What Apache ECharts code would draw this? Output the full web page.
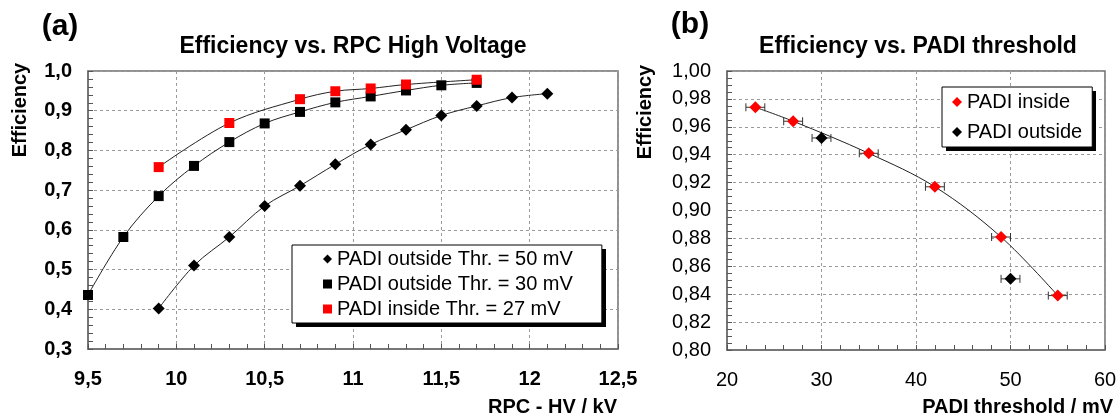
<!DOCTYPE html>
<html>
<head>
<meta charset="utf-8">
<script src="https://cdn.jsdelivr.net/npm/echarts@6/dist/echarts.min.js"></script>
<style>
html,body{margin:0;padding:0;background:#fff;}
#chart{width:1120px;height:419px;}
</style>
</head>
<body>
<div id="chart"></div>
<script>
// ---- Data ----
// (a) Efficiency vs. RPC High Voltage
const hv50 = [9.9, 10.1, 10.3, 10.5, 10.7, 10.9, 11.1, 11.3, 11.5, 11.7, 11.9, 12.1];
const eff50 = [0.402, 0.510, 0.582, 0.660, 0.711, 0.765, 0.815, 0.852, 0.888, 0.912, 0.933, 0.943];
const hv30 = [9.5, 9.7, 9.9, 10.1, 10.3, 10.5, 10.7, 10.9, 11.1, 11.3, 11.5, 11.7];
const eff30 = [0.436, 0.582, 0.685, 0.761, 0.821, 0.868, 0.897, 0.921, 0.936, 0.951, 0.964, 0.970];
const hv27 = [9.9, 10.3, 10.7, 10.9, 11.1, 11.3, 11.7];
const eff27 = [0.758, 0.869, 0.929, 0.949, 0.956, 0.966, 0.978];
const namesA = ['PADI outside Thr. = 50 mV', 'PADI outside Thr. = 30 mV', 'PADI inside Thr. = 27 mV'];

// (b) Efficiency vs. PADI threshold
const thrInside = [23, 27, 35, 42, 49, 55];
const effInside = [0.974, 0.964, 0.941, 0.917, 0.881, 0.839];
const thrOutside = [30, 50];
const effOutside = [0.952, 0.851];
const thrErr = 1.0; // horizontal error (mV)
const namesB = ['PADI inside', 'PADI outside'];

const FONT = "'Liberation Sans', Arial, sans-serif";
const pairs = (xs, ys) => xs.map((x, i) => [x, ys[i]]);
const comma = (s) => String(s).replace('.', ',');

const chart = echarts.init(document.getElementById('chart'), null, {renderer: 'canvas'});

const gridLine = {show: true, lineStyle: {color: '#9a9a9a', type: [3, 3], width: 1}};
const axLine = {show: true, lineStyle: {color: '#6e6e6e', width: 1.5}};
const tick = {show: true, inside: true, length: 5, lineStyle: {color: '#555', width: 1}};
const mtick = (n) => ({show: true, splitNumber: n, length: 5, lineStyle: {color: '#555', width: 1}});

function errRender(params, api) {
  const x = api.value(0), y = api.value(1), e = api.value(2);
  const p1 = api.coord([x - e, y]);
  const p2 = api.coord([x + e, y]);
  const st = {stroke: '#333', lineWidth: 1};
  return {
    type: 'group',
    children: [
      {type: 'line', shape: {x1: p1[0], y1: p1[1], x2: p2[0], y2: p2[1]}, style: st},
      {type: 'line', shape: {x1: p1[0], y1: p1[1] - 4, x2: p1[0], y2: p1[1] + 4}, style: st},
      {type: 'line', shape: {x1: p2[0], y1: p2[1] - 4, x2: p2[0], y2: p2[1] + 4}, style: st}
    ]
  };
}

const curve = (xs, ys, xi) => ({type: 'line', xAxisIndex: xi, yAxisIndex: xi, data: pairs(xs, ys), smooth: 0.35,
  showSymbol: false, silent: true, lineStyle: {color: '#222', width: 1}, z: 2});

const option = {
  backgroundColor: '#fff',
  animation: false,
  textStyle: {fontFamily: FONT},
  grid: [
    {left: 88, top: 71, width: 530, height: 278, show: true, borderColor: '#6e6e6e', borderWidth: 1.5, containLabel: false},
    {left: 727, top: 71, width: 378, height: 279, show: true, borderColor: '#6e6e6e', borderWidth: 1.5, containLabel: false}
  ],
  xAxis: [
    {type: 'value', gridIndex: 0, min: 9.5, max: 12.5, interval: 0.5,
     axisLine: axLine, axisTick: tick, minorTick: mtick(5), splitLine: gridLine,
     axisLabel: {fontSize: 20, fontWeight: 'bold', color: '#000', fontFamily: FONT, margin: 20,
       showMinLabel: true, showMaxLabel: true,
       formatter: v => Number.isInteger(v) ? String(v) : comma(v.toFixed(1))}},
    {type: 'value', gridIndex: 1, min: 20, max: 60, interval: 10,
     axisLine: axLine, axisTick: tick, minorTick: mtick(5), splitLine: gridLine,
     axisLabel: {fontSize: 20, color: '#000', fontFamily: FONT, margin: 20,
       showMinLabel: true, showMaxLabel: true, formatter: v => String(v)}}
  ],
  yAxis: [
    {type: 'value', gridIndex: 0, min: 0.3, max: 1.0, interval: 0.1,
     axisLine: axLine, axisTick: tick, minorTick: mtick(5), splitLine: gridLine,
     axisLabel: {fontSize: 20, fontWeight: 'bold', color: '#000', fontFamily: FONT, margin: 16,
       showMinLabel: true, showMaxLabel: true, formatter: v => comma(v.toFixed(1))}},
    {type: 'value', gridIndex: 1, min: 0.8, max: 1.0, interval: 0.02,
     axisLine: axLine, axisTick: tick, minorTick: mtick(4), splitLine: gridLine,
     axisLabel: {fontSize: 20, color: '#000', fontFamily: FONT, margin: 16,
       showMinLabel: true, showMaxLabel: true, formatter: v => comma(v.toFixed(2))}}
  ],
  legend: [
    {orient: 'vertical', left: 292, top: 245, z: 10, data: namesA.map((n, i) => ({name: n, icon: i === 0 ? 'diamond' : 'rect'})),
     itemWidth: 9, itemHeight: 9, itemGap: 5,
     textStyle: {fontSize: 20, color: '#000', fontFamily: FONT, lineHeight: 20},
     backgroundColor: '#fff', borderColor: '#000', borderWidth: 1, borderRadius: 0,
     padding: [4, 29, 4, 31]},
    {orient: 'vertical', left: 942, top: 87, z: 10, data: namesB.map(n => ({name: n, icon: 'diamond'})),
     itemWidth: 10, itemHeight: 10, itemGap: 10,
     textStyle: {fontSize: 20, color: '#000', fontFamily: FONT, lineHeight: 20},
     backgroundColor: '#fff', borderColor: '#000', borderWidth: 1, borderRadius: 0,
     padding: [5, 10, 5, 10]}
  ],
  series: [
    curve(hv50, eff50, 0),
    curve(hv30, eff30, 0),
    curve(hv27, eff27, 0),
    {name: namesA[0], type: 'scatter', xAxisIndex: 0, yAxisIndex: 0, data: pairs(hv50, eff50),
     symbol: 'diamond', symbolSize: 12, itemStyle: {color: '#000', opacity: 1}, z: 4},
    {name: namesA[1], type: 'scatter', xAxisIndex: 0, yAxisIndex: 0, data: pairs(hv30, eff30),
     symbol: 'rect', symbolSize: 10, itemStyle: {color: '#000', opacity: 1}, z: 3},
    {name: namesA[2], type: 'scatter', xAxisIndex: 0, yAxisIndex: 0, data: pairs(hv27, eff27),
     symbol: 'rect', symbolSize: 10, itemStyle: {color: '#ff0000', opacity: 1}, z: 4},
    curve(thrInside, effInside, 1),
    {type: 'custom', xAxisIndex: 1, yAxisIndex: 1, renderItem: errRender, silent: true, z: 3,
     encode: {x: 0, y: 1},
     data: thrInside.map((x, i) => [x, effInside[i], thrErr]).concat(thrOutside.map((x, i) => [x, effOutside[i], thrErr]))},
    {name: namesB[0], type: 'scatter', xAxisIndex: 1, yAxisIndex: 1, data: pairs(thrInside, effInside),
     symbol: 'diamond', symbolSize: 12, itemStyle: {color: '#ff0000', opacity: 1}, z: 5},
    {name: namesB[1], type: 'scatter', xAxisIndex: 1, yAxisIndex: 1, data: pairs(thrOutside, effOutside),
     symbol: 'diamond', symbolSize: 12, itemStyle: {color: '#000', opacity: 1}, z: 5}
  ],
  graphic: [
    // legend drop shadows
    {type: 'rect', z: 1, shape: {x: 296, y: 249, width: 310, height: 78}, style: {fill: '#000'}},
    {type: 'rect', z: 1, shape: {x: 946, y: 91, width: 150, height: 60}, style: {fill: '#000'}},
    {type: 'text', x: 60, y: 27, style: {text: '(a)', font: 'bold 30px ' + FONT, fill: '#000', textAlign: 'center', textVerticalAlign: 'middle'}},
    {type: 'text', x: 353, y: 47, style: {text: 'Efficiency vs. RPC High Voltage', font: 'bold 23px ' + FONT, fill: '#000', textAlign: 'center', textVerticalAlign: 'middle'}},
    {type: 'text', x: 690, y: 25, style: {text: '(b)', font: 'bold 30px ' + FONT, fill: '#000', textAlign: 'center', textVerticalAlign: 'middle'}},
    {type: 'text', x: 918, y: 47, style: {text: 'Efficiency vs. PADI threshold', font: 'bold 23px ' + FONT, fill: '#000', textAlign: 'center', textVerticalAlign: 'middle'}},
    {type: 'text', x: 20, y: 110, rotation: Math.PI / 2, style: {text: 'Efficiency', font: 'bold 20px ' + FONT, fill: '#000', textAlign: 'center', textVerticalAlign: 'middle'}},
    {type: 'text', x: 645, y: 112, rotation: Math.PI / 2, style: {text: 'Efficiency', font: 'bold 20px ' + FONT, fill: '#000', textAlign: 'center', textVerticalAlign: 'middle'}},
    {type: 'text', x: 617, y: 407, style: {text: 'RPC - HV / kV', font: 'bold 20px ' + FONT, fill: '#000', textAlign: 'right', textVerticalAlign: 'middle'}},
    {type: 'text', x: 1113, y: 407, style: {text: 'PADI threshold / mV', font: 'bold 20px ' + FONT, fill: '#000', textAlign: 'right', textVerticalAlign: 'middle'}}
  ]
};
chart.setOption(option);
</script>
</body>
</html>
